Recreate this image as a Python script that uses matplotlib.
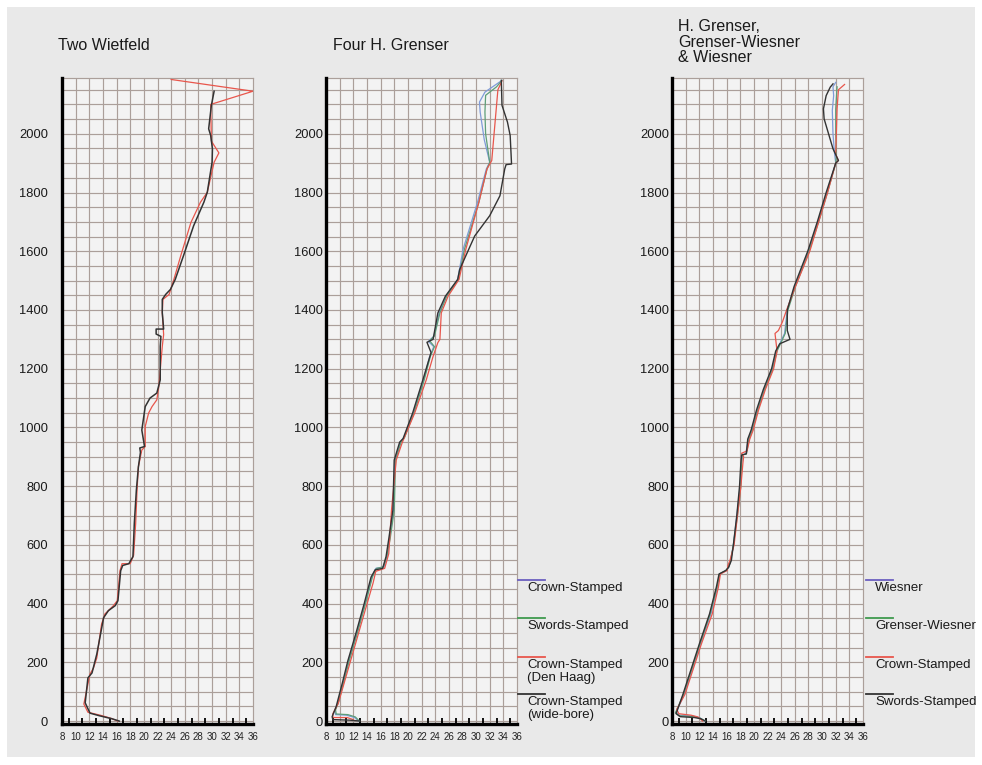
import matplotlib
matplotlib.use('Agg')
import matplotlib.pyplot as plt
from matplotlib.lines import Line2D
from matplotlib.patches import Rectangle

plt.rcParams['font.family'] = ['Liberation Sans', 'DejaVu Sans']

# --- data: bore (x) against position (y) ---
# Two Wietfeld
w_red_x = [16.2, 15.1, 13.6, 11.8, 11.2, 12.1, 12.6, 13.1, 13.8, 14.3, 15.5, 16.1, 16.5, 16.8, 18.0, 18.5,
           18.8, 19.0, 19.2, 19.7, 20.2, 20.2, 20.7, 21.2, 21.9, 22.2, 22.7, 22.9, 22.7, 22.8, 23.7, 24.4,
           25.4, 26.9, 28.3, 29.3, 30.3, 31.0, 29.9, 29.8, 36.0, 24.0]
w_red_y = [0, 10, 20, 30, 58, 160, 180, 215, 330, 365, 392, 410, 512, 536, 536, 565,
           673, 786, 866, 923, 935, 1003, 1049, 1071, 1094, 1140, 1276, 1316, 1391, 1436, 1453, 1504,
           1584, 1698, 1767, 1801, 1903, 1935, 1975, 2100, 2145, 2185]
w_blk_x = [16.4, 15.3, 13.5, 12.1, 11.4, 11.8, 12.4, 13.1, 14.1, 14.8, 15.8, 16.2, 16.6, 16.9, 17.8, 18.4,
           18.6, 18.9, 19.2, 19.5, 19.4, 20.1, 19.7, 20.2, 20.9, 21.9, 22.4, 22.4, 22.5, 21.8, 21.8, 22.9,
           22.7, 22.7, 23.2, 23.9, 24.6, 25.8, 27.3, 28.8, 29.3, 30.0, 30.05, 29.8, 29.5, 29.9, 30.3]
w_blk_y = [0, 8, 18, 27, 62, 147, 164, 228, 352, 376, 393, 410, 512, 530, 536, 560,
           673, 786, 866, 915, 930, 935, 991, 1071, 1100, 1117, 1162, 1276, 1310, 1318, 1335, 1335,
           1391, 1436, 1453, 1470, 1504, 1584, 1687, 1767, 1801, 1903, 1949, 1994, 2017, 2097, 2145]

# Four H. Grenser
g_crown_x = [12.8, 12.2, 11.0, 9.4, 9.3, 9.7, 10.5, 11.3, 12.5, 13.7, 14.7, 15.3, 16.5, 17.0, 17.3, 17.9,
             18.1, 18.9, 19.4, 20.8, 22.3, 23.2, 23.8, 23.0, 23.8, 24.6, 25.6, 27.3, 28.1, 30.2, 31.5,
             32.0, 31.2, 30.6, 30.5, 31.3, 33.8]
g_crown_y = [0, 12, 20, 22, 35, 60, 130, 205, 300, 400, 490, 520, 525, 560, 620, 718,
             889, 950, 965, 1049, 1162, 1242, 1275, 1293, 1310, 1390, 1447, 1504, 1607, 1766, 1880,
             1903, 1980, 2074, 2108, 2142, 2182]
g_swords_x = [12.9, 12.3, 11.2, 9.5, 9.4, 9.8, 10.6, 11.4, 12.6, 13.8, 14.8, 15.4, 16.4, 16.9, 17.4, 18.0,
              18.2, 19.0, 19.5, 20.9, 22.4, 23.3, 23.9, 23.2, 23.9, 24.7, 25.7, 27.4, 28.3, 30.4, 31.6,
              32.0, 31.4, 31.3, 31.4, 33.0, 33.8]
g_swords_y = [0, 14, 22, 24, 38, 62, 132, 205, 300, 400, 490, 520, 525, 560, 620, 718,
              889, 950, 965, 1049, 1162, 1242, 1275, 1295, 1312, 1390, 1447, 1504, 1607, 1766, 1880,
              1903, 2000, 2074, 2131, 2160, 2182]
g_haag_x = [12.0, 11.1, 9.0, 9.0, 9.8, 11.6, 13.9, 14.9, 15.3, 16.6, 17.2, 17.6, 18.3, 19.2, 21.0, 22.7,
            23.7, 24.4, 24.7, 24.9, 25.9, 27.5, 28.5, 30.4, 31.6, 32.3, 33.2, 33.8]
g_haag_y = [5, 12, 12, 25, 60, 205, 390, 470, 510, 520, 570, 718, 889, 950, 1049, 1162,
            1242, 1289, 1300, 1390, 1447, 1504, 1607, 1766, 1880, 1909, 2150, 2180]
g_wide_x = [13.0, 11.5, 9.0, 8.9, 9.5, 10.4, 11.2, 12.4, 13.6, 14.6, 15.2, 16.3, 16.8, 17.2, 17.8,
            18.0, 18.8, 19.3, 20.7, 22.2, 23.4, 22.8, 23.7, 24.4, 25.5, 27.3, 27.6, 29.8, 32.0, 33.5,
            34.2, 34.4, 35.2, 35.0, 34.6, 33.8, 33.7]
g_wide_y = [0, 3, 5, 15, 50, 130, 205, 300, 400, 490, 515, 520, 560, 620, 718,
            889, 950, 962, 1049, 1162, 1255, 1290, 1300, 1390, 1447, 1504, 1538, 1652, 1721, 1789,
            1880, 1895, 1897, 1994, 2040, 2097, 2182]

# H. Grenser, Grenser-Wiesner & Wiesner
h_wies_x = [12.8, 12.0, 11.0, 9.0, 8.6, 9.8, 12.2, 13.7, 14.7, 15.0, 16.0, 16.3, 16.6, 17.0, 17.5, 18.0,
            18.2, 18.3, 18.8, 19.2, 19.7, 20.5, 21.5, 22.7, 23.3, 23.9, 24.5, 24.9, 26.0, 28.0, 29.4,
            30.7, 32.0, 31.8, 31.6, 31.5, 31.7, 31.6, 32.0]
h_wies_y = [0, 12, 17, 20, 30, 91, 262, 365, 456, 501, 513, 524, 547, 600, 700, 800,
            880, 906, 910, 960, 991, 1060, 1130, 1200, 1260, 1290, 1320, 1400, 1480, 1600, 1700,
            1800, 1900, 1940, 2000, 2080, 2130, 2160, 2175]
h_gw_x = [12.9, 12.1, 11.1, 9.1, 8.5, 9.7, 12.1, 13.6, 14.6, 15.0, 15.9, 16.3, 16.6, 17.0, 17.6, 18.1,
          18.2, 18.3, 18.9, 19.3, 19.8, 20.6, 21.6, 22.8, 23.4, 24.0, 24.6, 25.0, 26.1, 28.1, 29.5,
          30.8, 32.0, 32.1, 32.0, 32.0, 32.2]
h_gw_y = [0, 10, 15, 18, 28, 91, 262, 365, 456, 501, 513, 524, 547, 600, 700, 800,
          880, 906, 910, 960, 991, 1060, 1130, 1200, 1260, 1290, 1320, 1400, 1480, 1600, 1700,
          1800, 1900, 1930, 2000, 2085, 2160]
h_crown_x = [12.5, 11.8, 10.8, 9.0, 8.7, 9.9, 12.3, 13.9, 14.8, 15.1, 16.1, 16.2, 16.5, 17.1, 17.6,
             18.1, 18.4, 18.5, 18.2, 19.0, 19.4, 19.9, 20.7, 21.7, 22.9, 23.4, 23.1, 23.6, 24.2,
             24.8, 26.1, 28.2, 29.5, 30.8, 32.0, 32.4, 32.0, 32.2, 32.4, 33.3]
h_crown_y = [0, 14, 20, 25, 40, 91, 262, 365, 456, 501, 513, 530, 547, 600, 700,
             800, 880, 900, 912, 920, 960, 991, 1060, 1130, 1200, 1260, 1320, 1330, 1360,
             1400, 1480, 1600, 1700, 1800, 1900, 1909, 1930, 2085, 2150, 2168]
h_swords_x = [12.9, 12.2, 11.3, 9.2, 8.6, 9.6, 12.0, 13.5, 14.5, 14.9, 15.9, 16.3, 16.7, 17.0, 17.5,
              17.9, 18.1, 18.2, 18.9, 19.1, 19.6, 20.4, 21.4, 22.6, 23.2, 23.8, 25.3, 24.9, 24.9, 25.9,
              27.9, 29.3, 30.6, 32.0, 32.4, 31.6, 30.3, 30.2, 30.6, 31.2, 31.6]
h_swords_y = [0, 8, 12, 15, 25, 91, 262, 365, 456, 501, 513, 524, 547, 600, 700,
              800, 880, 906, 910, 960, 991, 1060, 1130, 1200, 1260, 1285, 1300, 1330, 1400, 1480,
              1600, 1700, 1800, 1900, 1909, 1949, 2051, 2085, 2130, 2159, 2170]

titles = ['Two Wietfeld', 'Four H. Grenser', 'H. Grenser,\nGrenser-Wiesner\n& Wiesner']
legend2 = ['Crown-Stamped', 'Swords-Stamped', 'Crown-Stamped\n(Den Haag)', 'Crown-Stamped\n(wide-bore)']
legend3 = ['Wiesner', 'Grenser-Wiesner', 'Crown-Stamped', 'Swords-Stamped']

RED = '#e8564c'
BLK = '#333333'
BLUE = '#7f9bd8'
GREEN = '#5e9e78'
PURPLE = '#6b5fc0'
LGREEN = '#3f9a4f'
GRID = '#ab9f9a'

W, H = 982, 765
fig = plt.figure(figsize=(W / 100, H / 100), dpi=100)
fig.patch.set_facecolor('white')
fig.add_artist(Rectangle((7 / W, 8 / H), 968 / W, 750 / H, transform=fig.transFigure,
                         facecolor='#e9e9e9', edgecolor='none', zorder=-10))

panels = [
    (62, [(w_red_x, w_red_y, RED, 0.9), (w_blk_x, w_blk_y, BLK, 1.1)], 10),
    (326, [(g_crown_x, g_crown_y, BLUE, 0.9), (g_swords_x, g_swords_y, GREEN, 0.9),
           (g_haag_x, g_haag_y, RED, 0.9), (g_wide_x, g_wide_y, BLK, 1.0)], 2),
    (672, [(h_wies_x, h_wies_y, BLUE, 0.9), (h_gw_x, h_gw_y, GREEN, 0.9),
           (h_crown_x, h_crown_y, RED, 0.9), (h_swords_x, h_swords_y, BLK, 1.0)], 2),
]

for left, series, ypad in panels:
    ax = fig.add_axes([left / W, 41 / H, 191 / W, 646 / H])
    ax.set_facecolor('#f3f3f3')
    ax.set_xlim(8, 36)
    ax.set_ylim(-10, 2190)
    for v in range(0, 2200, 50):
        ax.axhline(v, color=GRID, lw=0.85, zorder=0)
    for v in range(10, 36, 2):
        ax.axvline(v, color=GRID, lw=0.85, zorder=0)
    for xs, ys, c, lw in series:
        ax.plot(xs, ys, color=c, lw=lw, zorder=3)
    ax.set_xticks(range(8, 37, 2))
    ax.set_xticks(range(9, 36, 2), minor=True)
    ax.set_yticks(range(0, 2001, 200))
    ax.tick_params(axis='x', which='major', length=0, labelsize=7, pad=6, labelcolor='#222222')
    ax.tick_params(axis='x', which='minor', direction='in', length=4, width=1.3, color='black')
    ax.tick_params(axis='y', length=0, labelsize=9.3, pad=ypad, labelcolor='#1a1a1a')
    for s in ['left', 'bottom']:
        ax.spines[s].set_linewidth(2.4)
        ax.spines[s].set_color('black')
        ax.spines[s].set_zorder(5)
    for s in ['top', 'right']:
        ax.spines[s].set_linewidth(0.85)
        ax.spines[s].set_color(GRID)

# titles
fig.text(58 / W, 1 - 45 / H, titles[0], fontsize=11.5, va='center', color='#1a1a1a')
fig.text(333 / W, 1 - 45 / H, titles[1], fontsize=11.5, va='center', color='#1a1a1a')
fig.text(678 / W, 1 - 19 / H, titles[2], fontsize=11.5, va='top', linespacing=1.05, color='#1a1a1a')

# legends
line_y = [580, 618, 657, 694]
leg_cols = [PURPLE, LGREEN, RED, BLK]
for x0, labels in [(518, legend2), (866, legend3)]:
    for yy, lab, c in zip(line_y, labels, leg_cols):
        fig.add_artist(Line2D([x0 / W, (x0 + 27) / W], [1 - yy / H, 1 - yy / H],
                              transform=fig.transFigure, color=c, lw=1.3))
        fig.text((x0 + 9) / W, 1 - (yy + 2) / H, lab, fontsize=9.5, va='top',
                 linespacing=1.15, color='#1a1a1a')

fig.savefig('out.png', dpi=100, facecolor=fig.get_facecolor())
